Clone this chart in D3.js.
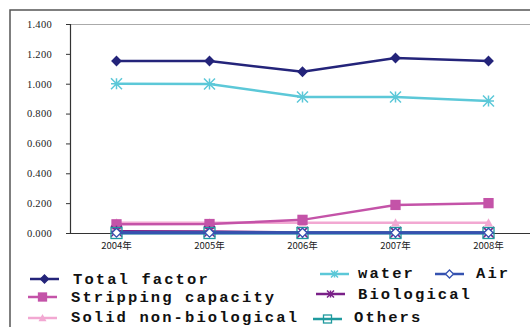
<!DOCTYPE html>
<html><head><meta charset="utf-8">
<script src="https://cdn.jsdelivr.net/npm/d3@7"></script>
<style>body{margin:0;background:#fff;}svg{display:block;}</style>
</head><body>
<svg id="c" width="530" height="327"></svg>
<script>
const years = ["2004年","2005年","2006年","2007年","2008年"];
const yTicks = [0,0.2,0.4,0.6,0.8,1.0,1.2,1.4];
const totalFactor = [1.152,1.152,1.080,1.172,1.152];
const water = [1.000,0.998,0.911,0.911,0.884];
const stripping = [0.058,0.060,0.088,0.188,0.200];
const solidNonBio = [0.068,0.068,0.068,0.068,0.068];
const biological = [0.012,0.010,0.004,0.004,0.004];
const air = [0.002,0.002,0.002,0.002,0.002];
const others = [0.0,0.0,0.0,0.0,0.0];

const series = [
 {name:"Total factor", values:totalFactor, color:"#24247a", marker:"diamond", fill:true},
 {name:"water", values:water, color:"#5cc8d8", marker:"asterisk"},
 {name:"Air", values:air, color:"#3552b0", marker:"diamond", fill:false},
 {name:"Stripping capacity", values:stripping, color:"#c453a8", marker:"square", fill:true},
 {name:"Biological", values:biological, color:"#7a2088", marker:"asterisk"},
 {name:"Solid non-biological", values:solidNonBio, color:"#f2a8d2", marker:"triangle", fill:true},
 {name:"Others", values:others, color:"#1f9a9e", marker:"square", fill:false}
];

const svg = d3.select("#c");
svg.append("rect").attr("x",10).attr("y",10).attr("width",540).attr("height",340)
  .attr("fill","none").attr("stroke","#555").attr("stroke-width",1.5);

const L=70, T=24, B=233, R=535;
const x = d3.scaleBand().domain(years).range([L,R]);
const y = d3.scaleLinear().domain([0,1.4]).range([B,T]);
const cx = d => x(d)+x.bandwidth()/2;

svg.append("line").attr("x1",L).attr("x2",530).attr("y1",T+0.5).attr("y2",T+0.5).attr("stroke","#aaa");

const yAxis = d3.axisLeft(y).tickValues(yTicks).tickFormat(d3.format(".3f")).tickSize(4);
const gy = svg.append("g").attr("transform",`translate(${L},0)`).call(yAxis);
gy.select(".domain").attr("stroke","#333").attr("stroke-width",1.2);
gy.selectAll(".tick line").attr("stroke","#333");
gy.selectAll(".tick text").attr("x",-18).attr("font-family","Liberation Serif, serif").attr("font-size",10.5).attr("fill","#222").attr("letter-spacing","0.3px");

const xAxis = d3.axisBottom(x).tickSize(0).tickPadding(9);
const gx = svg.append("g").attr("transform",`translate(0,${B})`).call(xAxis);
gx.select(".domain").attr("stroke","#333").attr("stroke-width",1.2);
gx.selectAll(".tick text").attr("font-family","Noto Sans CJK SC, sans-serif").attr("font-size",9.5).attr("fill","#222");

function drawMarker(g, type, color, fill, px, py, s){
  if(type==="diamond"){
    g.append("path").attr("d",`M${px},${py-s}L${px+s},${py}L${px},${py+s}L${px-s},${py}Z`)
     .attr("fill",fill?color:"#fff").attr("stroke",color).attr("stroke-width",1.3);
  } else if(type==="square"){
    g.append("rect").attr("x",px-s).attr("y",py-s).attr("width",2*s).attr("height",2*s)
     .attr("fill",fill?color:"none").attr("stroke",color).attr("stroke-width",1.3);
    if(!fill) g.append("line").attr("x1",px-s).attr("x2",px+s).attr("y1",py).attr("y2",py).attr("stroke",color).attr("stroke-width",1);
  } else if(type==="triangle"){
    g.append("path").attr("d",`M${px},${py-s}L${px+s},${py+s*0.8}L${px-s},${py+s*0.8}Z`).attr("fill",color);
  } else if(type==="asterisk"){
    const p = d3.path();
    p.moveTo(px-s,py-s);p.lineTo(px+s,py+s);
    p.moveTo(px-s,py+s);p.lineTo(px+s,py-s);
    p.moveTo(px,py-s);p.lineTo(px,py+s);
    p.moveTo(px-s,py);p.lineTo(px+s,py);
    g.append("path").attr("d",p.toString()).attr("stroke",color).attr("stroke-width",1.5).attr("fill","none");
  }
}

const line = d3.line().x((d,i)=>cx(years[i])).y(d=>y(d));
const drawOrder = ["Solid non-biological","Stripping capacity","Biological","Others","Air","water","Total factor"];
drawOrder.forEach(n=>{
  const s = series.find(e=>e.name===n);
  const g = svg.append("g");
  g.append("path").datum(s.values).attr("d",line).attr("fill","none")
   .attr("stroke",s.color).attr("stroke-width",n==="Air"||n==="Others"?3:2.5);
  s.values.forEach((v,i)=>{
    const sz = s.marker==="square" ? (s.fill?4.5:5.5) : s.marker==="asterisk"?5.5:4.5;
    drawMarker(g,s.marker,s.color,s.fill,cx(years[i]),y(v),sz);
  });
});

const legendPos = {
 "Total factor":[30,279,73,284],
 "water":[320,274,358,278],
 "Air":[435,274,476,278],
 "Stripping capacity":[28,297,71,302],
 "Biological":[316,294,358,299],
 "Solid non-biological":[28,318,71,322],
 "Others":[313,319,354,322]
};
series.forEach(s=>{
  const [mx,my,tx,ty] = legendPos[s.name];
  const g = svg.append("g");
  g.append("line").attr("x1",mx).attr("x2",mx+29).attr("y1",my).attr("y2",my).attr("stroke",s.color).attr("stroke-width",2.5);
  drawMarker(g,s.marker,s.color,s.fill,mx+14.5,my,s.marker==="asterisk"?3.5:4);
  g.append("text").attr("x",tx).attr("y",ty).text(s.name)
   .attr("font-family","Liberation Mono, monospace").attr("font-weight","bold")
   .attr("font-size",15.5).attr("letter-spacing","2.1px").attr("fill","#111");
});
</script>
</body></html>
